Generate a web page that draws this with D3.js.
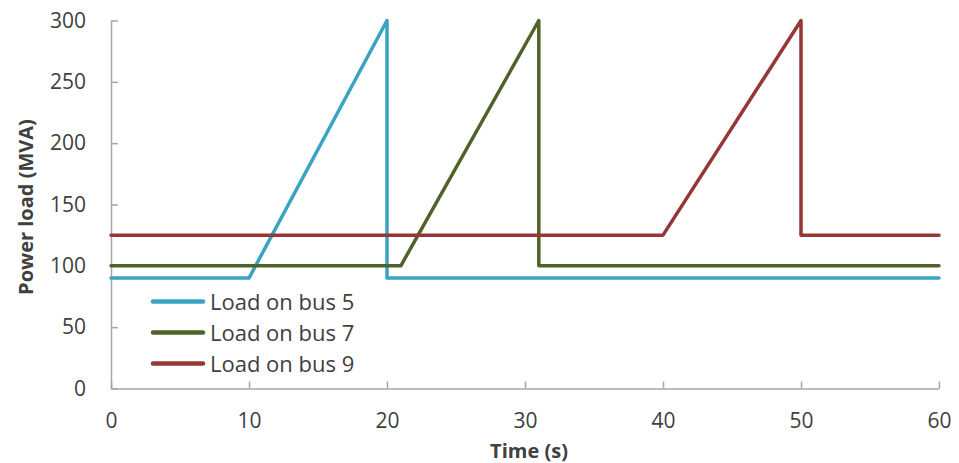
<!DOCTYPE html>
<html>
<head>
<meta charset="utf-8">
<script src="https://cdn.jsdelivr.net/npm/d3@7"></script>
<style>
  body { margin: 0; background: #fff; }
  text { font-family: "Open Sans", Lato, sans-serif; fill: #404040; }
</style>
</head>
<body>
<script>
// time points (s) and loads (MVA)
var bus5T = [0, 10, 20, 20, 60];
var bus5V = [90, 90, 300, 90, 90];
var bus7T = [0, 21, 31, 31, 60];
var bus7V = [100, 100, 300, 100, 100];
var bus9T = [0, 40, 50, 50, 60];
var bus9V = [125, 125, 300, 125, 125];

var seriesNames = ["Load on bus 5", "Load on bus 7", "Load on bus 9"];
var colors = ["#3aa3c1", "#4f6228", "#953735"];
var xTicks = [0, 10, 20, 30, 40, 50, 60];
var yTicks = [0, 50, 100, 150, 200, 250, 300];

var svgWidth = 959, svgHeight = 463;
var svg = d3.select('body').append('svg')
    .attr('width', svgWidth).attr('height', svgHeight);

var xScale = d3.scaleLinear().domain([0, 60]).range([111, 939]);
var yScale = d3.scaleLinear().domain([0, 300]).range([388.5, 20.5]);

var axisColor = "#a6a6a6";

// x axis, ticks point up into the plot
var xAxis = svg.append("g")
    .attr("transform", "translate(0," + yScale(0) + ")")
    .call(d3.axisBottom(xScale).tickValues(xTicks).tickSizeInner(-7).tickSizeOuter(0).tickPadding(25));
// y axis, ticks point right into the plot
var yAxis = svg.append("g")
    .attr("transform", "translate(" + xScale(0) + ",0)")
    .call(d3.axisLeft(yScale).tickValues(yTicks).tickSizeInner(-7).tickSizeOuter(0).tickPadding(25));

[xAxis, yAxis].forEach(g => {
    g.select(".domain").attr("stroke", axisColor).attr("stroke-width", 1.5);
    g.selectAll(".tick line").attr("stroke", axisColor).attr("stroke-width", 1.5);
    g.selectAll(".tick text").attr("font-size", 21).attr("fill", "#404040")
        .style("font-family", "'Open Sans', Lato, sans-serif");
});

var series = [
    bus5T.map((t, i) => [t, bus5V[i]]),
    bus7T.map((t, i) => [t, bus7V[i]]),
    bus9T.map((t, i) => [t, bus9V[i]])
];

var line = d3.line().x(d => xScale(d[0])).y(d => yScale(d[1]));

svg.selectAll("path.series").data(series).enter().append("path")
    .attr("class", "series")
    .attr("d", line)
    .attr("fill", "none")
    .attr("stroke", (d, i) => colors[i])
    .attr("stroke-width", 3.5)
    .attr("stroke-linejoin", "round")
    .attr("stroke-linecap", "round");

// legend
var legend = svg.selectAll("g.legend").data(seriesNames).enter().append("g")
    .attr("class", "legend")
    .attr("transform", (d, i) => "translate(153," + (301.5 + i * 31) + ")");
legend.append("line")
    .attr("x1", 0).attr("x2", 50)
    .attr("stroke", (d, i) => colors[i])
    .attr("stroke-width", 4.5)
    .attr("stroke-linecap", "round");
legend.append("text")
    .attr("x", 57).attr("y", 8)
    .attr("font-size", 22)
    .text(d => d);

// axis titles
svg.append("text")
    .attr("x", 529).attr("y", 458)
    .attr("text-anchor", "middle")
    .attr("font-size", 20).attr("font-weight", "bold")
    .text("Time (s)");
svg.append("text")
    .attr("transform", "translate(33,207) rotate(-90)")
    .attr("text-anchor", "middle")
    .attr("font-size", 20).attr("font-weight", "bold")
    .text("Power load (MVA)");
</script>
</body>
</html>
